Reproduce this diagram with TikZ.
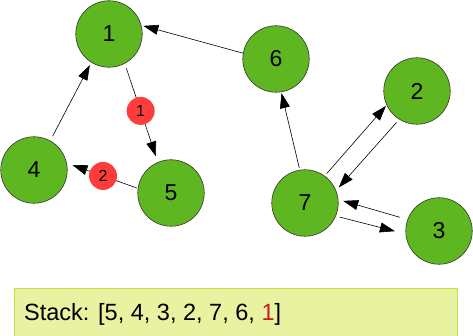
\documentclass[tikz,border=0pt]{standalone}
\usepackage{fontspec}
\setmainfont{Liberation Sans}
\usepackage{xcolor}
\usetikzlibrary{arrows.meta}
\definecolor{vertexgreen}{RGB}{94,182,32}
\definecolor{badgered}{RGB}{255,60,60}
\definecolor{stackfill}{RGB}{233,242,161}
\definecolor{stackline}{RGB}{192,226,70}
\definecolor{topred}{RGB}{200,30,30}

\begin{document}
\begin{tikzpicture}[
  x=1pt, y=-1pt,
  vertex/.style={circle, draw=black!80, line width=0.6pt, fill=vertexgreen, minimum size=66.5pt, inner sep=0pt, font=\fontsize{23}{27}\selectfont},
  badge/.style={circle, fill=badgered, minimum size=28pt, inner sep=0pt, font=\fontsize{16}{19}\selectfont},
  arrow/.style={-{Triangle[length=15pt, width=10pt]}, line width=0.6pt},
  stackbox/.style={rectangle, draw=stackline, line width=1pt, fill=stackfill}
]
\useasboundingbox (0,0) rectangle (473,336);

\node[vertex] (n1) at (109,34) {1};
\node[vertex] (n6) at (276,59) {6};
\node[vertex] (n2) at (417,91) {2};
\node[vertex] (n4) at (34,170) {4};
\node[vertex] (n5) at (171,193) {5};
\node[vertex] (n7) at (305,203) {7};
\node[vertex] (n3) at (439,231) {3};

\draw[arrow, shorten >=2pt] (n6.170) -- (n1.15);
\draw[arrow, shorten <=5pt, shorten >=6pt] (n1.-62) -- (n5.113) node[badge, pos=0.48] (b1) {1};
\draw[arrow, shorten <=1pt, shorten >=6pt] (n5.172) -- (n4.12) node[badge, pos=0.49] (b2) {2};
\draw[arrow, shorten <=5pt, shorten >=3pt] (n4.61) -- (n1.238);
\draw[arrow, shorten <=2pt, shorten >=1pt] (n7.99) -- (n6.-81);
\draw[arrow, shorten <=3pt, shorten >=1pt] (n7.54) -- (n2.205);
\draw[arrow, shorten <=4pt, shorten >=4pt] (n2.238) -- (n7.22);
\draw[arrow, shorten <=8pt, shorten >=5pt] (n3.160) -- (n7.6);
\draw[arrow, shorten <=4pt, shorten >=11pt] (n7.-23) -- (n3.185);

\path[stackbox] (14,288) rectangle (457,340);
\node[anchor=base west, inner sep=0pt, font=\fontsize{23.5}{28}\selectfont] (stack) at (24,320) {Stack: [5, 4, 3, 2, 7, 6, \textcolor{topred}{1}]};

\end{tikzpicture}
\end{document}
